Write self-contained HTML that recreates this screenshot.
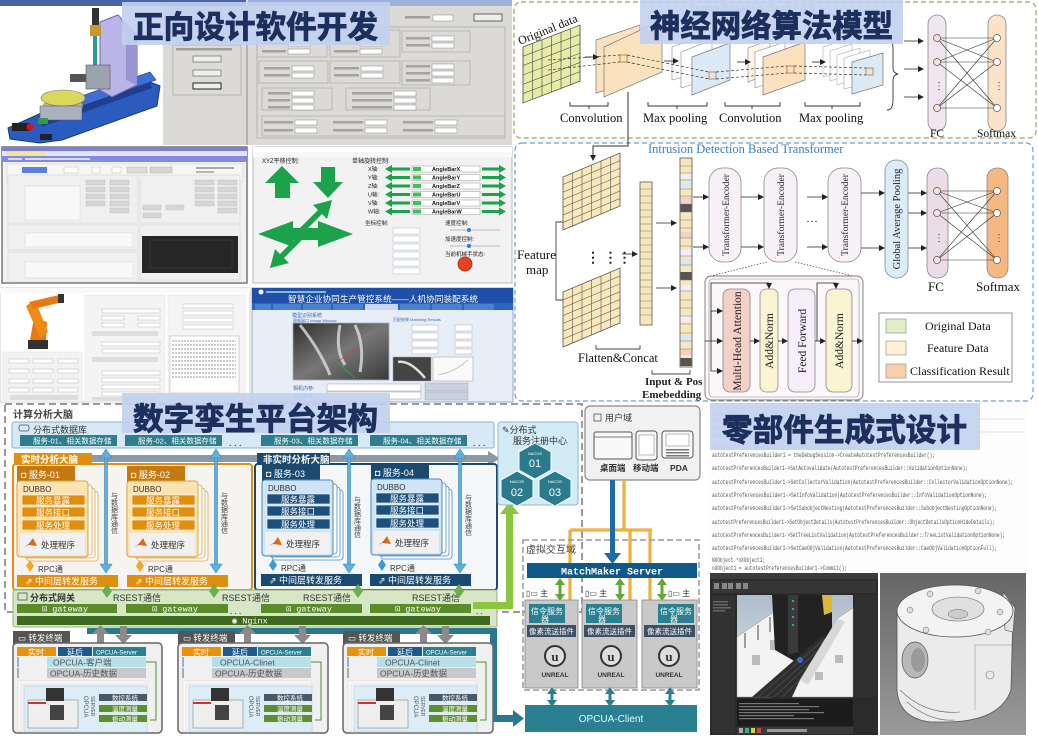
<!DOCTYPE html>
<html><head><meta charset="utf-8">
<style>
html,body{margin:0;padding:0;background:#fff;}
svg{display:block;}
.cn{font-family:"Liberation Sans","Noto Sans CJK SC",sans-serif;}
.sf{font-family:"Liberation Serif","Noto Serif CJK SC",serif;}
.mo{font-family:"Liberation Mono",monospace;}
.tt{font-family:"Liberation Sans","Noto Sans CJK SC",sans-serif;font-weight:bold;fill:#1d2f5c;stroke:#1d2f5c;stroke-width:0.9;}
</style></head><body>
<svg width="1038" height="747" viewBox="0 0 1038 747" xmlns="http://www.w3.org/2000/svg">
<defs>
<marker id="ah" markerWidth="6" markerHeight="6" refX="5" refY="3" orient="auto" markerUnits="userSpaceOnUse"><path d="M0,0 L6,3 L0,6 z" fill="#222"/></marker>
<linearGradient id="gpart" x1="0" y1="0" x2="0" y2="1"><stop offset="0" stop-color="#666"/><stop offset="1" stop-color="#9a9a9a"/></linearGradient>
<linearGradient id="gview" x1="0" y1="0" x2="0" y2="1"><stop offset="0" stop-color="#aebccb"/><stop offset="1" stop-color="#dfe6ee"/></linearGradient>
<linearGradient id="gcam" x1="0" y1="0" x2="1" y2="1"><stop offset="0" stop-color="#2e2e2e"/><stop offset="0.5" stop-color="#777"/><stop offset="1" stop-color="#3a3a3a"/></linearGradient>
</defs>

<!-- ================= TOP LEFT: software screenshots ================= -->
<rect x="0" y="0" width="512" height="145" fill="#dcdad6"/>
<rect x="0" y="0" width="246" height="6" fill="#4a62a6"/>
<rect x="248" y="0" width="264" height="6" fill="#9db0d8"/>
<rect x="0" y="6" width="163" height="139" fill="#fff"/>
<polygon points="8,128 48,110 140,78 160,86 157,106 62,140 40,143 10,139" fill="#2c5bbf" stroke="#1a3a80" stroke-width="1"/>
<polygon points="70,100 150,72 156,80 76,109" fill="#3f6fd6" stroke="#1a3a80" stroke-width="0.6"/>
<polygon points="40,120 150,82 152,88 42,127" fill="#1e3f8e"/>
<polygon points="100,22 118,15 137,35 137,85 112,97 100,90" fill="#b9b5e8" stroke="#6a66a8" stroke-width="1"/>
<polygon points="118,15 137,35 137,85 126,80 126,30" fill="#9a96d4"/>
<rect x="92" y="8" width="7" height="18" fill="#333"/>
<rect x="90" y="25" width="11" height="11" fill="#c8982e"/>
<rect x="93" y="36" width="4" height="34" fill="#2a9a9a"/>
<rect x="86" y="65" width="24" height="24" fill="#9ca2ae" stroke="#555" stroke-width="0.6"/>
<rect x="70" y="74" width="16" height="8" fill="#555"/>
<ellipse cx="63" cy="106" rx="20" ry="7" fill="#c9b584" stroke="#777" stroke-width="0.5"/>
<ellipse cx="63" cy="98" rx="22" ry="8" fill="#d9d85c" stroke="#777" stroke-width="0.6"/>
<rect x="40" y="106" width="42" height="14" fill="#aab0bc" stroke="#555" stroke-width="0.5"/>
<rect x="12" y="123" width="18" height="8" fill="#222"/>
<circle cx="30" cy="127" r="3.5" fill="#e01010"/>
<rect x="38" y="118" width="10" height="6" fill="#2e9a4a"/>
<rect x="40" y="134" width="12" height="6" fill="#222"/>
<rect x="173" y="45" width="68" height="50" fill="none" stroke="#aaa" stroke-width="0.8"/>
<rect x="176" y="48" width="56" height="2.5" fill="#777" opacity=".6"/>
<rect x="193" y="56" width="28" height="6" fill="#eee" stroke="#555" stroke-width="0.6"/>
<rect x="193" y="70" width="28" height="6" fill="#eee" stroke="#555" stroke-width="0.6"/>
<rect x="193" y="83" width="28" height="6" fill="#eee" stroke="#222" stroke-width="1"/>
<rect x="246" y="6" width="2" height="139" fill="#b5b3af"/>
<rect x="257" y="27" width="248" height="111" fill="none" stroke="#aaa" stroke-width="0.8"/>
<rect x="405" y="16" width="25" height="2.5" fill="#777" opacity=".6"/>
<rect x="433" y="15" width="20" height="6" fill="#fff" stroke="#888" stroke-width="0.5"/>
<rect x="474" y="14" width="28" height="7" fill="#eee" stroke="#444" stroke-width="0.8"/>
<g fill="none" stroke="#aaa" stroke-width="0.7">
<rect x="257" y="30" width="70" height="27"/><rect x="330" y="30" width="70" height="27"/><rect x="402" y="31" width="68" height="21"/>
<rect x="259" y="61" width="69" height="22"/><rect x="330" y="61" width="70" height="22"/><rect x="402" y="61" width="68" height="24"/>
<rect x="262" y="88" width="70" height="22"/><rect x="346" y="88" width="84" height="22"/><rect x="262" y="116" width="243" height="20"/>
</g>
<g fill="#fff" stroke="#888" stroke-width="0.5">
<rect x="288" y="41" width="22" height="5"/><rect x="288" y="49" width="22" height="5"/>
<rect x="360" y="41" width="22" height="5"/><rect x="360" y="49" width="22" height="5"/>
<rect x="432" y="36" width="22" height="5"/><rect x="432" y="43" width="22" height="5"/>
<rect x="292" y="66" width="22" height="5"/><rect x="292" y="73" width="22" height="5"/>
<rect x="361" y="66" width="22" height="5"/><rect x="361" y="73" width="22" height="5"/>
<rect x="432" y="64" width="22" height="5"/><rect x="432" y="71" width="22" height="5"/><rect x="432" y="78" width="22" height="5"/>
<rect x="292" y="91" width="22" height="5"/><rect x="292" y="98" width="22" height="5"/><rect x="292" y="105" width="22" height="5"/>
<rect x="394" y="91" width="22" height="5"/><rect x="394" y="98" width="22" height="5"/><rect x="394" y="105" width="22" height="5"/>
<rect x="295" y="120" width="22" height="5"/><rect x="295" y="128" width="22" height="5"/>
<rect x="365" y="120" width="22" height="5"/><rect x="365" y="128" width="22" height="5"/>
<rect x="435" y="120" width="22" height="5"/><rect x="435" y="128" width="22" height="5"/>
</g>
<g fill="#777" opacity=".55">
<rect x="262" y="42" width="24" height="2.5"/><rect x="262" y="50" width="24" height="2.5"/>
<rect x="334" y="42" width="24" height="2.5"/><rect x="334" y="50" width="24" height="2.5"/>
<rect x="406" y="37" width="24" height="2.5"/><rect x="406" y="44" width="24" height="2.5"/>
<rect x="264" y="67" width="26" height="2.5"/><rect x="264" y="74" width="26" height="2.5"/>
<rect x="334" y="67" width="25" height="2.5"/><rect x="334" y="74" width="25" height="2.5"/>
<rect x="406" y="65" width="24" height="2.5"/><rect x="406" y="72" width="24" height="2.5"/><rect x="406" y="79" width="24" height="2.5"/>
<rect x="268" y="92" width="22" height="2.5"/><rect x="268" y="99" width="22" height="2.5"/><rect x="268" y="106" width="22" height="2.5"/>
<rect x="352" y="92" width="40" height="2.5"/><rect x="352" y="99" width="40" height="2.5"/><rect x="352" y="106" width="40" height="2.5"/>
<rect x="264" y="121" width="29" height="2.5"/><rect x="264" y="129" width="29" height="2.5"/>
<rect x="333" y="121" width="30" height="2.5"/><rect x="333" y="129" width="30" height="2.5"/>
<rect x="403" y="121" width="30" height="2.5"/><rect x="403" y="129" width="30" height="2.5"/>
</g>
<rect x="122" y="2" width="268" height="43" fill="#c2d0f0" opacity="0.9"/>
<text class="tt" x="133" y="38" font-size="31" textLength="245" lengthAdjust="spacingAndGlyphs">正向设计软件开发</text>

<!-- ================= TOP RIGHT: CNN ================= -->
<rect x="514" y="2" width="522" height="136" rx="7" fill="#fff" stroke="#a4a35c" stroke-width="1.2" stroke-dasharray="5,3"/>
<text class="sf" x="690" y="11" font-size="10" fill="#999">Feature Extraction Based CNN</text>
<g transform="translate(523,47) skewY(-21)">
<rect x="0" y="0" width="57" height="56" fill="#e6eca8" stroke="#444" stroke-width="0.8"/>
<g stroke="#444" stroke-width="0.6">
<line x1="9.5" y1="0" x2="9.5" y2="56"/><line x1="19" y1="0" x2="19" y2="56"/><line x1="28.5" y1="0" x2="28.5" y2="56"/><line x1="38" y1="0" x2="38" y2="56"/><line x1="47.5" y1="0" x2="47.5" y2="56"/>
<line x1="0" y1="9.3" x2="57" y2="9.3"/><line x1="0" y1="18.6" x2="57" y2="18.6"/><line x1="0" y1="28" x2="57" y2="28"/><line x1="0" y1="37.3" x2="57" y2="37.3"/><line x1="0" y1="46.6" x2="57" y2="46.6"/>
</g></g>
<text class="sf" font-size="12" fill="#111" transform="translate(520,45) rotate(-22)">Original data</text>
<polygon points="596,40 640,25 640,80 596,93" fill="#fbe3c2" stroke="#777" stroke-width="0.7"/>
<polygon points="604,47 662,20 662,72 604,97" fill="#fbe2bf" stroke="#777" stroke-width="0.7"/>
<rect x="620" y="55" width="7" height="7" fill="none" stroke="#b07a30" stroke-width="0.8"/>
<polygon points="672,47 700,37 700,73 672,80" fill="#fff" stroke="#888" stroke-width="0.6"/>
<polygon points="681,52 712,40 712,78 681,88" fill="#fff" stroke="#888" stroke-width="0.6"/>
<polygon points="692,57 730,43 730,80 692,95" fill="#dceaf6" stroke="#777" stroke-width="0.7"/>
<rect x="709" y="72" width="7" height="7" fill="none" stroke="#b07a30" stroke-width="0.8"/>
<polygon points="748,48 770,40 770,73 748,82" fill="#fff6ea" stroke="#888" stroke-width="0.6"/>
<polygon points="755,52 785,42 785,78 755,88" fill="#fff" stroke="#888" stroke-width="0.6"/>
<polygon points="763,57 805,42 805,80 763,95" fill="#fbe1bd" stroke="#777" stroke-width="0.7"/>
<rect x="787" y="66" width="7" height="7" fill="none" stroke="#b07a30" stroke-width="0.8"/>
<polygon points="823,47 845,40 845,70 823,77" fill="#fff" stroke="#999" stroke-width="0.5"/>
<polygon points="830,51 852,44 852,74 830,81" fill="#fff" stroke="#999" stroke-width="0.5"/>
<polygon points="837,55 860,48 860,78 837,85" fill="#fff" stroke="#999" stroke-width="0.5"/>
<polygon points="844,58 870,50 870,82 844,89" fill="#fff" stroke="#999" stroke-width="0.5"/>
<polygon points="852,62 883,53 883,85 852,94" fill="#dceaf6" stroke="#777" stroke-width="0.7"/>
<rect x="866" y="68" width="7" height="7" fill="none" stroke="#b07a30" stroke-width="0.8"/>
<g stroke="#333" stroke-width="0.7" stroke-dasharray="3,2" fill="none">
<line x1="548" y1="60" x2="620" y2="55"/><line x1="548" y1="70" x2="620" y2="62"/>
<line x1="627" y1="55" x2="709" y2="72"/><line x1="627" y1="62" x2="709" y2="79"/>
<line x1="716" y1="72" x2="787" y2="66"/><line x1="716" y1="79" x2="787" y2="73"/>
<line x1="794" y1="66" x2="866" y2="68"/><line x1="794" y1="73" x2="866" y2="75"/>
</g>
<g stroke="#222" stroke-width="0.8" marker-end="url(#ah)">
<line x1="585" y1="57" x2="598" y2="57"/><line x1="664" y1="61" x2="678" y2="61"/><line x1="737" y1="62" x2="750" y2="62"/><line x1="812" y1="62" x2="825" y2="62"/>
</g>
<g stroke="#333" stroke-width="0.9" fill="none">
<path d="M570,102 V106 H608 V102 M589,106 V109"/>
<path d="M648,102 V106 H707 V102 M677,106 V109"/>
<path d="M725,102 V106 H780 V102 M752,106 V109"/>
<path d="M805,102 V106 H860 V102 M832,106 V109"/>
<path d="M887,38 Q893,38 893,50 V68 Q893,73 898,74 Q893,75 893,80 V100 Q893,110 887,110"/>
</g>
<g class="sf" font-size="12.5" fill="#111">
<text x="560" y="122">Convolution</text><text x="643" y="122">Max pooling</text><text x="719" y="122">Convolution</text><text x="799" y="122">Max pooling</text>
</g>
<g stroke="#222" stroke-width="0.8" marker-end="url(#ah)">
<line x1="904" y1="41" x2="923" y2="41"/><line x1="904" y1="69" x2="923" y2="69"/><line x1="904" y1="97" x2="923" y2="97"/>
</g>
<rect x="928" y="15" width="18" height="116" rx="9" fill="#f1e5ef" stroke="#888" stroke-width="0.8"/>
<rect x="988" y="15" width="18" height="116" rx="9" fill="#fbe3c9" stroke="#888" stroke-width="0.8"/>
<g stroke="#333" stroke-width="0.6">
<line x1="937" y1="38" x2="997" y2="38"/><line x1="937" y1="38" x2="997" y2="62"/><line x1="937" y1="38" x2="997" y2="108"/>
<line x1="937" y1="62" x2="997" y2="38"/><line x1="937" y1="62" x2="997" y2="62"/><line x1="937" y1="62" x2="997" y2="108"/>
<line x1="937" y1="108" x2="997" y2="38"/><line x1="937" y1="108" x2="997" y2="62"/><line x1="937" y1="108" x2="997" y2="108"/>
</g>
<g fill="#fbe0dc" stroke="#555" stroke-width="0.7">
<circle cx="937" cy="38" r="3.5"/><circle cx="937" cy="62" r="3.5"/><circle cx="937" cy="108" r="3.5"/>
</g>
<g fill="#fff" stroke="#555" stroke-width="0.7">
<circle cx="997" cy="38" r="3.5"/><circle cx="997" cy="62" r="3.5"/><circle cx="997" cy="108" r="3.5"/>
</g>
<text x="934" y="89" font-size="10" fill="#333">⋮</text><text x="994" y="89" font-size="10" fill="#333">⋮</text>
<text class="sf" x="930" y="137" font-size="11.5" fill="#111">FC</text>
<text class="sf" x="977" y="137" font-size="11.5" fill="#111">Softmax</text>
<rect x="640" y="0" width="263" height="44" fill="#c2d0f0" opacity="0.9"/>
<text class="tt" x="650" y="37" font-size="31" textLength="243" lengthAdjust="spacingAndGlyphs">神经网络算法模型</text>

<!-- ================= MIDDLE RIGHT: Transformer ================= -->
<rect x="515" y="143" width="518" height="258" rx="7" fill="#fff" stroke="#6d9fd0" stroke-width="1.2" stroke-dasharray="5,3"/>
<path d="M628,92 V146 H593 V160" stroke="#333" stroke-width="1" fill="none" marker-end="url(#ah)"/>
<text class="sf" x="648" y="153" font-size="12.5" fill="#3b7cc2">Intrusion Detection Based Transformer</text>
<g transform="translate(563,177) skewY(-22.8)">
<rect x="0" y="0" width="57" height="53" fill="#f8e8bc" stroke="#555" stroke-width="0.8"/>
<g stroke="#555" stroke-width="0.6">
<line x1="9.5" y1="0" x2="9.5" y2="53"/><line x1="19" y1="0" x2="19" y2="53"/><line x1="28.5" y1="0" x2="28.5" y2="53"/><line x1="38" y1="0" x2="38" y2="53"/><line x1="47.5" y1="0" x2="47.5" y2="53"/>
<line x1="0" y1="7.6" x2="57" y2="7.6"/><line x1="0" y1="15.2" x2="57" y2="15.2"/><line x1="0" y1="22.7" x2="57" y2="22.7"/><line x1="0" y1="30.3" x2="57" y2="30.3"/><line x1="0" y1="37.9" x2="57" y2="37.9"/><line x1="0" y1="45.4" x2="57" y2="45.4"/>
</g></g>
<g transform="translate(563,292) skewY(-22.8)">
<rect x="0" y="0" width="57" height="55" fill="#f8e8bc" stroke="#555" stroke-width="0.8"/>
<g stroke="#555" stroke-width="0.6">
<line x1="9.5" y1="0" x2="9.5" y2="55"/><line x1="19" y1="0" x2="19" y2="55"/><line x1="28.5" y1="0" x2="28.5" y2="55"/><line x1="38" y1="0" x2="38" y2="55"/><line x1="47.5" y1="0" x2="47.5" y2="55"/>
<line x1="0" y1="7.9" x2="57" y2="7.9"/><line x1="0" y1="15.7" x2="57" y2="15.7"/><line x1="0" y1="23.6" x2="57" y2="23.6"/><line x1="0" y1="31.4" x2="57" y2="31.4"/><line x1="0" y1="39.3" x2="57" y2="39.3"/><line x1="0" y1="47.1" x2="57" y2="47.1"/>
</g></g>
<text x="586" y="262" font-size="14" fill="#222" font-weight="bold">⋮ ⋮⋮</text>
<path d="M563,222 H556 V300 H563" stroke="#444" stroke-width="0.9" fill="none"/>
<text class="sf" x="517" y="259" font-size="13" fill="#111">Feature</text>
<text class="sf" x="526" y="274" font-size="13" fill="#111">map</text>
<line x1="622" y1="254" x2="637" y2="254" stroke="#222" stroke-width="0.8" marker-end="url(#ah)"/>
<rect x="640" y="182" width="12" height="143" fill="#f8e8bc" stroke="#555" stroke-width="0.8"/>
<g stroke="#777" stroke-width="0.5">
<line x1="640" y1="189" x2="652" y2="189"/><line x1="640" y1="196" x2="652" y2="196"/><line x1="640" y1="203" x2="652" y2="203"/><line x1="640" y1="210" x2="652" y2="210"/><line x1="640" y1="217" x2="652" y2="217"/><line x1="640" y1="224" x2="652" y2="224"/><line x1="640" y1="231" x2="652" y2="231"/><line x1="640" y1="238" x2="652" y2="238"/><line x1="640" y1="245" x2="652" y2="245"/><line x1="640" y1="252" x2="652" y2="252"/><line x1="640" y1="259" x2="652" y2="259"/><line x1="640" y1="266" x2="652" y2="266"/><line x1="640" y1="273" x2="652" y2="273"/><line x1="640" y1="280" x2="652" y2="280"/><line x1="640" y1="287" x2="652" y2="287"/><line x1="640" y1="294" x2="652" y2="294"/><line x1="640" y1="301" x2="652" y2="301"/><line x1="640" y1="308" x2="652" y2="308"/><line x1="640" y1="315" x2="652" y2="315"/>
</g>
<path d="M596,345 V349 H640 V345" stroke="#444" stroke-width="0.9" fill="none"/>
<text class="sf" x="578" y="362" font-size="12.5" fill="#111">Flatten&amp;Concat</text>
<g stroke="#222" stroke-width="0.8" marker-end="url(#ah)">
<line x1="656" y1="223" x2="676" y2="223"/><line x1="656" y1="288" x2="676" y2="288"/>
</g>
<rect x="680" y="158" width="12" height="209" fill="#f8e8bc" stroke="#555" stroke-width="0.8"/>
<g stroke="none">
<rect x="680.5" y="173" width="11" height="6" fill="#f0eef8"/><rect x="680.5" y="182" width="11" height="6" fill="#d8e8f5"/><rect x="680.5" y="197" width="11" height="6" fill="#f6d0c8"/>
<rect x="680.5" y="204" width="11" height="8" fill="#555"/><rect x="680.5" y="232" width="11" height="6" fill="#f6d0c8"/><rect x="680.5" y="250" width="11" height="6" fill="#f0eef8"/>
<rect x="680.5" y="259" width="11" height="6" fill="#d8e8f5"/><rect x="680.5" y="272" width="11" height="8" fill="#555"/><rect x="680.5" y="285" width="11" height="6" fill="#f0eef8"/>
<rect x="680.5" y="316" width="11" height="6" fill="#f0eef8"/><rect x="680.5" y="335" width="11" height="6" fill="#d8e8f5"/><rect x="680.5" y="349" width="11" height="6" fill="#f6d0c8"/><rect x="680.5" y="358" width="11" height="8" fill="#555"/>
</g>
<g stroke="#777" stroke-width="0.5">
<line x1="680" y1="166" x2="692" y2="166"/><line x1="680" y1="173" x2="692" y2="173"/><line x1="680" y1="180" x2="692" y2="180"/><line x1="680" y1="189" x2="692" y2="189"/><line x1="680" y1="196" x2="692" y2="196"/><line x1="680" y1="204" x2="692" y2="204"/><line x1="680" y1="212" x2="692" y2="212"/><line x1="680" y1="220" x2="692" y2="220"/><line x1="680" y1="228" x2="692" y2="228"/><line x1="680" y1="238" x2="692" y2="238"/><line x1="680" y1="246" x2="692" y2="246"/><line x1="680" y1="256" x2="692" y2="256"/><line x1="680" y1="265" x2="692" y2="265"/><line x1="680" y1="280" x2="692" y2="280"/><line x1="680" y1="291" x2="692" y2="291"/><line x1="680" y1="300" x2="692" y2="300"/><line x1="680" y1="308" x2="692" y2="308"/><line x1="680" y1="316" x2="692" y2="316"/><line x1="680" y1="324" x2="692" y2="324"/><line x1="680" y1="333" x2="692" y2="333"/><line x1="680" y1="341" x2="692" y2="341"/><line x1="680" y1="349" x2="692" y2="349"/>
</g>
<path d="M652,370 V374 H690 V370" stroke="#444" stroke-width="0.9" fill="none"/>
<text class="sf" x="645" y="385" font-size="11" font-weight="bold" fill="#222">Input &amp; Pos</text>
<text class="sf" x="642" y="398" font-size="11" font-weight="bold" fill="#222">Emebedding</text>
<g fill="#f8f2f8" stroke="#888" stroke-width="0.8">
<rect x="709" y="168" width="32" height="94" rx="14"/><rect x="764" y="168" width="33" height="94" rx="14"/><rect x="828" y="168" width="33" height="94" rx="14"/>
</g>
<g class="sf" font-size="9.5" fill="#222" text-anchor="middle">
<text transform="translate(729,215) rotate(-90)">Transformer-Encoder</text>
<text transform="translate(784,215) rotate(-90)">Transformer-Encoder</text>
<text transform="translate(848,215) rotate(-90)">Transformer-Encoder</text>
</g>
<g stroke="#222" stroke-width="0.8" marker-end="url(#ah)">
<line x1="693" y1="197" x2="708" y2="197"/><line x1="693" y1="247" x2="708" y2="247"/>
<line x1="741" y1="197" x2="763" y2="197"/><line x1="741" y1="247" x2="763" y2="247"/>
<line x1="807" y1="197" x2="827" y2="197"/><line x1="807" y1="247" x2="827" y2="247"/>
<line x1="861" y1="193" x2="884" y2="193"/><line x1="861" y1="248" x2="884" y2="248"/>
<line x1="908" y1="193" x2="926" y2="193"/><line x1="908" y1="213" x2="926" y2="213"/><line x1="908" y1="248" x2="926" y2="248"/>
</g>
<text x="806" y="222" font-size="12" fill="#222">…</text>
<rect x="885" y="160" width="23" height="118" rx="11" fill="#dcecfa" stroke="#888" stroke-width="0.8"/>
<text class="sf" transform="translate(900,219) rotate(-90)" text-anchor="middle" font-size="10.5" fill="#222">Global Average Pooling</text>
<rect x="927" y="168" width="21" height="110" rx="10" fill="#eadde7" stroke="#888" stroke-width="0.8"/>
<rect x="987" y="168" width="21" height="110" rx="10" fill="#f6b882" stroke="#888" stroke-width="0.8"/>
<g stroke="#333" stroke-width="0.6">
<line x1="937" y1="191" x2="997" y2="191"/><line x1="937" y1="191" x2="997" y2="213"/><line x1="937" y1="191" x2="997" y2="260"/>
<line x1="937" y1="213" x2="997" y2="191"/><line x1="937" y1="213" x2="997" y2="213"/><line x1="937" y1="213" x2="997" y2="260"/>
<line x1="937" y1="260" x2="997" y2="191"/><line x1="937" y1="260" x2="997" y2="213"/><line x1="937" y1="260" x2="997" y2="260"/>
</g>
<g fill="#fbe0dc" stroke="#555" stroke-width="0.7"><circle cx="937" cy="191" r="3.5"/><circle cx="937" cy="213" r="3.5"/><circle cx="937" cy="260" r="3.5"/></g>
<g fill="#fff" stroke="#555" stroke-width="0.7"><circle cx="997" cy="191" r="3.5"/><circle cx="997" cy="213" r="3.5"/><circle cx="997" cy="260" r="3.5"/></g>
<text x="934" y="241" font-size="10" fill="#333">⋮</text><text x="994" y="241" font-size="10" fill="#333">⋮</text>
<text class="sf" x="928" y="291" font-size="13" fill="#111">FC</text>
<text class="sf" x="976" y="291" font-size="13" fill="#111">Softmax</text>
<g stroke="#555" stroke-width="0.8" stroke-dasharray="1.5,1.5"><line x1="767" y1="262" x2="707" y2="277"/><line x1="795" y1="262" x2="857" y2="277"/></g>
<rect x="705" y="276" width="158" height="124" rx="6" fill="#fcf7fb" stroke="#777" stroke-width="0.9"/>
<rect x="709" y="279" width="150" height="118" rx="4" fill="none" stroke="#888" stroke-width="0.6"/>
<rect x="723" y="289" width="27" height="103" rx="7" fill="#f5d0c6" stroke="#888" stroke-width="0.8"/>
<rect x="760" y="289" width="18" height="103" rx="6" fill="#fbf4d2" stroke="#888" stroke-width="0.8"/>
<rect x="788" y="289" width="27" height="103" rx="7" fill="#f6eef8" stroke="#888" stroke-width="0.8"/>
<rect x="826" y="289" width="26" height="103" rx="7" fill="#fbf4d2" stroke="#888" stroke-width="0.8"/>
<g class="sf" font-size="11.5" fill="#222" text-anchor="middle">
<text transform="translate(741,341) rotate(-90)">Multi-Head Attention</text>
<text transform="translate(773,341) rotate(-90)">Add&amp;Norm</text>
<text transform="translate(806,341) rotate(-90)">Feed Forward</text>
<text transform="translate(843,341) rotate(-90)">Add&amp;Norm</text>
</g>
<g stroke="#222" stroke-width="0.8" fill="none">
<path d="M711,341 V283 H769 V288" marker-end="url(#ah)"/>
<path d="M817,341 V283 H836 V288" marker-end="url(#ah)"/>
<path d="M711,311 H722" marker-end="url(#ah)"/><path d="M705,341 H722" marker-end="url(#ah)"/><path d="M711,311 V371 H722" marker-end="url(#ah)"/>
<path d="M750,341 H759" marker-end="url(#ah)"/><path d="M778,341 H787" marker-end="url(#ah)"/><path d="M815,341 H825" marker-end="url(#ah)"/><path d="M852,341 H862" marker-end="url(#ah)"/>
</g>
<rect x="879" y="313" width="133" height="69" fill="#fff" stroke="#888" stroke-width="0.9"/>
<rect x="886" y="319" width="20" height="14" fill="#e4edca" stroke="#888" stroke-width="0.6"/>
<rect x="886" y="341" width="20" height="14" fill="#fdf2d4" stroke="#888" stroke-width="0.6"/>
<rect x="886" y="364" width="20" height="14" fill="#f8cfa8" stroke="#888" stroke-width="0.6"/>
<g class="sf" font-size="12" fill="#111">
<text x="925" y="330">Original Data</text><text x="927" y="352">Feature Data</text><text x="910" y="375">Classification Result</text>
</g>

<!-- ================= MIDDLE LEFT: 4 screenshots ================= -->
<rect x="2" y="147" width="245" height="136" fill="#f2f2f2" stroke="#777" stroke-width="1.5"/>
<rect x="2" y="147" width="245" height="4" fill="#7b7fd8"/>
<rect x="2" y="151" width="245" height="5" fill="#e4e4fb"/>
<rect x="7" y="151" width="38" height="5" fill="#f4e592"/>
<rect x="2" y="156" width="245" height="6" fill="#8387e6"/>
<rect x="8" y="158" width="14" height="2" fill="#fff" opacity=".7"/><rect x="25" y="158" width="65" height="2" fill="#fff" opacity=".7"/>
<rect x="7" y="164" width="236" height="18" fill="#f6f6f6" stroke="#ccc" stroke-width="0.5"/>
<rect x="22" y="167" width="25" height="6" fill="#5b7de0"/>
<rect x="64" y="167" width="14" height="6" fill="#fff" stroke="#aaa" stroke-width="0.4"/>
<rect x="92" y="167" width="8" height="6" fill="#fff" stroke="#aaa" stroke-width="0.4"/>
<rect x="112" y="167" width="9" height="6" fill="#fff" stroke="#aaa" stroke-width="0.4"/>
<rect x="127" y="167" width="20" height="6" fill="#ddd" stroke="#aaa" stroke-width="0.4"/>
<rect x="150" y="167" width="22" height="6" fill="#d5d5d5" stroke="#aaa" stroke-width="0.4"/>
<rect x="196" y="167" width="38" height="2" fill="#777" opacity=".6"/><rect x="196" y="171" width="18" height="2" fill="#777" opacity=".5"/>
<rect x="8" y="175" width="130" height="48" fill="#f0f0f0" stroke="#ccc" stroke-width="0.5"/>
<rect x="25" y="186" width="55" height="34" fill="#f8f8f8" stroke="#ccc" stroke-width="0.4"/>
<rect x="140" y="175" width="100" height="48" fill="#f0f0f0" stroke="#ccc" stroke-width="0.5"/>
<g fill="#d6d6d6" stroke="#bbb" stroke-width="0.4">
<rect x="86" y="180" width="19" height="5"/><rect x="110" y="180" width="19" height="5"/><rect x="86" y="187" width="19" height="5"/><rect x="110" y="187" width="19" height="5"/>
<rect x="86" y="194" width="19" height="5"/><rect x="110" y="194" width="19" height="5"/><rect x="86" y="201" width="19" height="5"/><rect x="110" y="201" width="19" height="5"/><rect x="110" y="208" width="19" height="5"/>
<rect x="195" y="180" width="19" height="5"/><rect x="218" y="180" width="19" height="5"/><rect x="195" y="187" width="19" height="5"/><rect x="218" y="187" width="19" height="5"/>
<rect x="195" y="194" width="19" height="5"/><rect x="218" y="194" width="19" height="5"/><rect x="195" y="201" width="19" height="5"/><rect x="218" y="201" width="19" height="5"/><rect x="218" y="208" width="19" height="5"/>
<rect x="143" y="205" width="18" height="5"/><rect x="166" y="205" width="18" height="5"/><rect x="143" y="213" width="18" height="5"/>
<rect x="93" y="226" width="20" height="5"/><rect x="113" y="226" width="20" height="5"/><rect x="225" y="226" width="13" height="5"/><rect x="115" y="255" width="20" height="5"/>
</g>
<rect x="8" y="225" width="130" height="25" fill="#f0f0f0" stroke="#ccc" stroke-width="0.5"/>
<rect x="25" y="233" width="108" height="14" fill="#f8f8f8" stroke="#ccc" stroke-width="0.4"/>
<rect x="140" y="225" width="100" height="55" fill="#f0f0f0" stroke="#ccc" stroke-width="0.5"/>
<rect x="142" y="236" width="96" height="37" fill="#262626"/>
<rect x="150" y="240" width="82" height="28" fill="none" stroke="#555" stroke-width="0.4"/>
<rect x="8" y="252" width="130" height="30" fill="#f0f0f0" stroke="#ccc" stroke-width="0.5"/>
<rect x="25" y="262" width="108" height="16" fill="#f8f8f8" stroke="#ccc" stroke-width="0.4"/>
<!-- Panel B -->
<rect x="253" y="147" width="259" height="136" fill="#f2f2f2" stroke="#bbb" stroke-width="1"/>
<rect x="253" y="147" width="259" height="5" fill="#fff"/>
<rect x="253" y="152" width="259" height="5" fill="#f8f8f8"/>
<g fill="#1ca24b">
<polygon points="282,166 299,183 290,183 290,198 275,198 275,183 265,183"/>
<polygon points="321,167 335,167 335,182 343,182 328,198 313,182 321,182"/>
<polygon points="318,228 318,221 353,234 318,247 318,240 300,240 300,228" />
<polygon points="293,228 293,221 258,234 293,247 293,240 300,240 300,228"/>
<polygon points="296,232 318,210 313,205 332,200 327,219 322,214 300,236"/>
<polygon points="306,236 284,258 289,263 270,268 275,249 280,254 302,232"/>
</g>
<g class="cn" font-size="6" fill="#222"><text x="262" y="163">XYZ平移控制:</text><text x="352" y="163">单轴旋转控制:</text></g>
<g fill="#1ca24b">
<polygon points="385,169 392,165 392,167.5 410,167.5 410,170.5 392,170.5 392,173"/>
<polygon points="506,169 499,165 499,167.5 482,167.5 482,170.5 499,170.5 499,173"/>
<polygon points="385,177.5 392,173.5 392,176 410,176 410,179 392,179 392,181.5"/>
<polygon points="506,177.5 499,173.5 499,176 482,176 482,179 499,179 499,181.5"/>
<polygon points="385,186 392,182 392,184.5 410,184.5 410,187.5 392,187.5 392,190"/>
<polygon points="506,186 499,182 499,184.5 482,184.5 482,187.5 499,187.5 499,190"/>
<polygon points="385,194.5 392,190.5 392,193 410,193 410,196 392,196 392,198.5"/>
<polygon points="506,194.5 499,190.5 499,193 482,193 482,196 499,196 499,198.5"/>
<polygon points="385,203 392,199 392,201.5 410,201.5 410,204.5 392,204.5 392,207"/>
<polygon points="506,203 499,199 499,201.5 482,201.5 482,204.5 499,204.5 499,207"/>
<polygon points="385,211.5 392,207.5 392,210 410,210 410,213 392,213 392,215.5"/>
<polygon points="506,211.5 499,207.5 499,210 482,210 482,213 499,213 499,215.5"/>
</g>
<g fill="#fff" stroke="#999" stroke-width="0.5">
<rect x="412" y="166" width="68" height="6"/><rect x="412" y="174.5" width="68" height="6"/><rect x="412" y="183" width="68" height="6"/><rect x="412" y="191.5" width="68" height="6"/><rect x="412" y="200" width="68" height="6"/><rect x="412" y="208.5" width="68" height="6"/>
</g>
<g fill="#3ec05c"><rect x="413" y="167" width="8" height="4"/><rect x="413" y="175.5" width="8" height="4"/><rect x="413" y="184" width="8" height="4"/><rect x="413" y="192.5" width="8" height="4"/><rect x="413" y="201" width="8" height="4"/><rect x="413" y="209.5" width="8" height="4"/></g>
<g class="cn" font-size="5.5" font-weight="bold" fill="#111">
<text x="432" y="171">AngleBarX</text><text x="432" y="179.5">AngleBarY</text><text x="432" y="188">AngleBarZ</text><text x="432" y="196.5">AngleBarU</text><text x="432" y="205">AngleBarV</text><text x="432" y="213.5">AngleBarW</text>
</g>
<g class="cn" font-size="5.5" fill="#222">
<text x="368" y="171">X轴:</text><text x="368" y="179.5">Y轴:</text><text x="368" y="188">Z轴:</text><text x="368" y="196.5">U轴:</text><text x="368" y="205">V轴:</text><text x="368" y="213.5">W轴:</text>
<text x="365" y="225">坐标控制:</text><text x="445" y="225">速度控制:</text><text x="445" y="241">加速度控制:</text><text x="445" y="256">当前机械手状态:</text>
</g>
<g fill="#fff" stroke="#a8b8cc" stroke-width="0.5">
<rect x="393" y="228" width="27" height="6"/><rect x="393" y="236" width="27" height="6"/><rect x="393" y="244" width="27" height="6"/><rect x="393" y="252" width="27" height="6"/><rect x="393" y="260" width="27" height="6"/><rect x="393" y="268" width="27" height="6"/>
</g>
<rect x="450" y="229.5" width="50" height="1" fill="#bbb"/><circle cx="469" cy="230" r="2" fill="#2a7ad8"/>
<rect x="450" y="245.5" width="50" height="1" fill="#bbb"/><circle cx="469" cy="246" r="2" fill="#2a7ad8"/>
<circle cx="465" cy="264" r="7" fill="#e2441e" stroke="#b02a10" stroke-width="0.8"/>
<!-- Panel C -->
<rect x="0" y="288" width="250" height="114" fill="#fff" stroke="#ccc" stroke-width="1"/>
<rect x="0" y="288" width="250" height="5" fill="#fafafa"/>
<rect x="2" y="297" width="80" height="53" fill="#fff"/>
<rect x="28" y="340" width="20" height="9" fill="#333"/>
<polygon points="30,340 46,340 47,322 34,318" fill="#e8780f"/>
<polygon points="26,306 35,300 48,332 40,338" fill="#ee8a18"/>
<polygon points="29,302 59,295 63,302 33,309" fill="#e8780f"/>
<rect x="58" y="294" width="6" height="9" fill="#333"/>
<rect x="2" y="352" width="80" height="50" fill="#f2f2f2" stroke="#ddd" stroke-width="0.4"/>
<g fill="#fff" stroke="#aaa" stroke-width="0.4">
<rect x="9" y="359" width="20" height="4"/><rect x="33" y="359" width="20" height="4"/><rect x="58" y="359" width="20" height="4"/>
<rect x="9" y="369" width="20" height="4"/><rect x="33" y="369" width="20" height="4"/><rect x="58" y="369" width="20" height="4"/>
<rect x="9" y="379" width="20" height="4"/><rect x="33" y="379" width="20" height="4"/><rect x="58" y="379" width="20" height="4"/>
<rect x="9" y="388" width="20" height="4"/><rect x="33" y="388" width="20" height="4"/><rect x="58" y="388" width="20" height="4"/>
</g>
<rect x="10" y="395" width="68" height="5" fill="#ddd"/>
<rect x="85" y="295" width="80" height="107" fill="#f4f4f4" stroke="#ddd" stroke-width="0.4"/>
<rect x="168" y="295" width="77" height="107" fill="#f4f4f4" stroke="#ddd" stroke-width="0.4"/>
<g fill="#fff" stroke="#aaa" stroke-width="0.4">
<rect x="102" y="309" width="58" height="4"/><rect x="102" y="316" width="22" height="4"/><rect x="138" y="316" width="22" height="4"/><rect x="102" y="323" width="22" height="4"/><rect x="138" y="323" width="22" height="4"/>
<rect x="102" y="342" width="58" height="4"/><rect x="102" y="349" width="58" height="4"/>
<rect x="102" y="371" width="58" height="4"/><rect x="102" y="378" width="58" height="4"/><rect x="102" y="385" width="58" height="4"/><rect x="102" y="392" width="58" height="4"/>
<rect x="183" y="304" width="50" height="4"/><rect x="183" y="311" width="50" height="4"/><rect x="183" y="318" width="50" height="4"/><rect x="183" y="325" width="50" height="4"/>
</g>
<rect x="92" y="331" width="66" height="5" fill="#ddd"/><rect x="92" y="357" width="66" height="5" fill="#ddd"/><rect x="92" y="397" width="66" height="4" fill="#ddd"/>
<rect x="170" y="336" width="69" height="57" fill="#fff" stroke="#aaa" stroke-width="0.5"/>
<g stroke="#999" stroke-width="0.9" stroke-dasharray="2,1">
<line x1="172" y1="341" x2="236" y2="341"/><line x1="172" y1="345" x2="236" y2="345"/><line x1="172" y1="349" x2="236" y2="349"/><line x1="172" y1="353" x2="236" y2="353"/><line x1="172" y1="357" x2="236" y2="357"/><line x1="172" y1="361" x2="236" y2="361"/><line x1="172" y1="365" x2="236" y2="365"/><line x1="172" y1="369" x2="236" y2="369"/><line x1="172" y1="373" x2="236" y2="373"/><line x1="172" y1="377" x2="236" y2="377"/>
</g>
<rect x="170" y="395" width="69" height="5" fill="#ddd"/>
<!-- Panel D -->
<rect x="252" y="288" width="261" height="114" fill="#e8eef7" stroke="#9ab" stroke-width="1"/>
<rect x="252" y="288" width="261" height="20" fill="#1f4fa6"/>
<circle cx="261" cy="292" r="2.5" fill="#fff"/>
<rect x="266" y="291" width="60" height="2" fill="#cfe" opacity=".6"/>
<text class="cn" x="288" y="302" font-size="8.5" fill="#fff" textLength="190" lengthAdjust="spacingAndGlyphs">智慧企业协同生产管控系统——人机协同装配系统</text>
<rect x="252" y="303" width="261" height="7" fill="#2d64bd"/>
<g fill="#4a80d0"><rect x="255" y="304" width="16" height="6"/><rect x="273" y="304" width="28" height="6"/><rect x="303" y="304" width="28" height="6"/><rect x="333" y="304" width="30" height="6"/><rect x="400" y="304" width="30" height="6"/><rect x="432" y="304" width="30" height="6"/><rect x="464" y="304" width="30" height="6"/></g>
<rect x="365" y="304" width="33" height="6" fill="#c9d8ef"/>
<text class="cn" x="292" y="317" font-size="5" fill="#3a6ab8">模型识别系统</text>
<text class="cn" x="293" y="322" font-size="4" fill="#3a6ab8">图像窗口 Image Window</text>
<text class="cn" x="393" y="321" font-size="4" fill="#3a6ab8">匹配结果 Matching Results</text>
<rect x="293" y="323" width="96" height="57" fill="url(#gcam)" stroke="#aab" stroke-width="0.8"/>
<path d="M300,325 Q320,350 330,375 M340,325 Q335,350 345,365 M355,325 Q365,345 360,372" stroke="#ddd" stroke-width="3" fill="none" opacity=".8"/>
<line x1="337" y1="362" x2="355" y2="378" stroke="#2c2" stroke-width="0.7"/><line x1="337" y1="362" x2="358" y2="348" stroke="#e33" stroke-width="0.7"/>
<g fill="#fff" stroke="#99a" stroke-width="0.4">
<rect x="412" y="325" width="26" height="6"/><rect x="455" y="325" width="17" height="6"/><rect x="412" y="333" width="26" height="6"/><rect x="455" y="333" width="17" height="6"/>
<rect x="412" y="341" width="26" height="6"/><rect x="455" y="341" width="17" height="6"/><rect x="412" y="349" width="26" height="5"/><rect x="455" y="349" width="17" height="5"/>
</g>
<rect x="393" y="357" width="38" height="24" fill="#444" stroke="#99a" stroke-width="0.5"/>
<path d="M398,362 Q410,360 425,378" stroke="#ddd" stroke-width="2.5" fill="none"/>
<rect x="433" y="357" width="40" height="24" fill="#fafafa" stroke="#99a" stroke-width="0.5"/>
<path d="M438,375 Q455,372 468,360" stroke="#aaa" stroke-width="0.6" fill="none"/>
<g class="cn" font-size="5" fill="#3a6ab8"><text x="293" y="390">相机内参:</text><text x="293" y="398">相机外参:</text></g>
<rect x="327" y="384" width="94" height="7" fill="#fff" stroke="#99a" stroke-width="0.5"/>
<rect x="327" y="392" width="94" height="7" fill="#fff" stroke="#99a" stroke-width="0.5"/>
<rect x="425" y="383" width="43" height="8" fill="#c7d1df" stroke="#99a" stroke-width="0.4"/>
<rect x="425" y="392" width="43" height="8" fill="#c7d1df" stroke="#99a" stroke-width="0.4"/>

<!-- ================= BOTTOM LEFT: architecture ================= -->
<rect x="5" y="404" width="577" height="208" fill="none" stroke="#9a9a9a" stroke-width="2" stroke-dasharray="7,4"/>
<text class="cn" x="13" y="418" font-size="10" font-weight="bold" fill="#444">计算分析大脑</text>
<rect x="12" y="422" width="482" height="26" rx="2" fill="#d7e9f6" stroke="#8ab2cf" stroke-width="1"/>
<rect x="19" y="425" width="10" height="6" rx="2" fill="none" stroke="#456" stroke-width="0.8"/>
<text class="cn" x="33" y="433" font-size="9" fill="#333">分布式数据库</text>
<g fill="#2e7e8e"><rect x="20" y="435" width="97" height="11"/><rect x="125" y="435" width="97" height="11"/><rect x="261" y="435" width="97" height="11"/><rect x="370" y="435" width="97" height="11"/></g>
<g class="cn" font-size="7.5" fill="#fff"><text x="33" y="443.5">服务-01、相关数据存储</text><text x="138" y="443.5">服务-02、相关数据存储</text><text x="274" y="443.5">服务-03、相关数据存储</text><text x="383" y="443.5">服务-04、相关数据存储</text></g>
<text x="229" y="446" font-size="10" fill="#333">. . .</text><text x="473" y="446" font-size="10" fill="#333">. . .</text>
<rect x="92" y="455" width="396" height="7" fill="#8c9aa8"/>
<polygon points="488,451 500,458.5 488,466" fill="#8c9aa8"/>
<rect x="13" y="464" width="239" height="126" rx="3" fill="#f6f4f0" stroke="#e0900e" stroke-width="2"/>
<rect x="14" y="453" width="78" height="12" fill="#e0900e"/>
<text class="cn" x="21" y="463" font-size="9.5" font-weight="bold" fill="#fff">实时分析大脑</text>
<rect x="255" y="464" width="242" height="126" rx="3" fill="#f4f6f8" stroke="#1b4a70" stroke-width="2"/>
<rect x="257" y="453" width="73" height="12" fill="#1b4a70"/>
<text class="cn" x="263" y="463" font-size="9.5" font-weight="bold" fill="#fff">非实时分析大脑</text>
<!-- card 1 -->
<rect x="27" y="491" width="71" height="70" rx="3" fill="#fff" stroke="#e0a040" stroke-width="0.8"/>
<rect x="24" y="488" width="71" height="70" rx="3" fill="#fff" stroke="#e0a040" stroke-width="0.8"/>
<rect x="21" y="485" width="71" height="70" rx="3" fill="#fff" stroke="#e0a040" stroke-width="0.8"/>
<rect x="17" y="466" width="58" height="16" fill="#c47a12"/>
<rect x="17" y="481" width="71" height="76" rx="3" fill="#fde3b2" stroke="#e0a040" stroke-width="1"/>
<text class="cn" x="21" y="478" font-size="9" fill="#fff">◘ 服务-01</text>
<text class="cn" x="23" y="492" font-size="8" fill="#333">DUBBO</text>
<g fill="#e08e0b" stroke="#fff" stroke-width="0.6"><rect x="22" y="495" width="63" height="10"/><rect x="22" y="507" width="63" height="10"/><rect x="22" y="520" width="63" height="10"/></g>
<g class="cn" font-size="8.5" fill="#fff" text-anchor="middle"><text x="53" y="503.5">服务暴露</text><text x="53" y="515.5">服务接口</text><text x="53" y="528.5">服务处理</text></g>
<rect x="20" y="533" width="65" height="22" fill="#f1f1f1"/>
<polygon points="28,545 33,538 37,546" fill="#e06a10"/><polygon points="28,545 33,541 24,547" fill="#3a6ad0"/>
<text class="cn" x="41" y="548" font-size="8.5" fill="#333">处理程序</text>
<!-- card 2 -->
<rect x="137" y="491" width="71" height="70" rx="3" fill="#fff" stroke="#e0a040" stroke-width="0.8"/>
<rect x="134" y="488" width="71" height="70" rx="3" fill="#fff" stroke="#e0a040" stroke-width="0.8"/>
<rect x="131" y="485" width="71" height="70" rx="3" fill="#fff" stroke="#e0a040" stroke-width="0.8"/>
<rect x="127" y="466" width="58" height="16" fill="#c47a12"/>
<rect x="127" y="481" width="71" height="76" rx="3" fill="#fde3b2" stroke="#e0a040" stroke-width="1"/>
<text class="cn" x="131" y="478" font-size="9" fill="#fff">◘ 服务-02</text>
<text class="cn" x="133" y="492" font-size="8" fill="#333">DUBBO</text>
<g fill="#e08e0b" stroke="#fff" stroke-width="0.6"><rect x="132" y="495" width="63" height="10"/><rect x="132" y="507" width="63" height="10"/><rect x="132" y="520" width="63" height="10"/></g>
<g class="cn" font-size="8.5" fill="#fff" text-anchor="middle"><text x="163" y="503.5">服务暴露</text><text x="163" y="515.5">服务接口</text><text x="163" y="528.5">服务处理</text></g>
<rect x="130" y="533" width="65" height="22" fill="#f1f1f1"/>
<polygon points="138,545 143,538 147,546" fill="#e06a10"/><polygon points="138,545 143,541 134,547" fill="#3a6ad0"/>
<text class="cn" x="151" y="548" font-size="8.5" fill="#333">处理程序</text>
<!-- card 3 -->
<rect x="272" y="490" width="71" height="70" rx="3" fill="#fff" stroke="#4a8ac0" stroke-width="0.8"/>
<rect x="269" y="487" width="71" height="70" rx="3" fill="#fff" stroke="#4a8ac0" stroke-width="0.8"/>
<rect x="266" y="484" width="71" height="70" rx="3" fill="#fff" stroke="#4a8ac0" stroke-width="0.8"/>
<rect x="262" y="465" width="58" height="16" fill="#1b4a70"/>
<rect x="262" y="480" width="71" height="76" rx="3" fill="#cfe4f6" stroke="#4a8ac0" stroke-width="1"/>
<text class="cn" x="266" y="477" font-size="9" fill="#fff">◘ 服务-03</text>
<text class="cn" x="268" y="491" font-size="8" fill="#333">DUBBO</text>
<g fill="#1d4f7c" stroke="#fff" stroke-width="0.6"><rect x="267" y="494" width="63" height="10"/><rect x="267" y="506" width="63" height="10"/><rect x="267" y="519" width="63" height="10"/></g>
<g class="cn" font-size="8.5" fill="#fff" text-anchor="middle"><text x="298" y="502.5">服务暴露</text><text x="298" y="514.5">服务接口</text><text x="298" y="527.5">服务处理</text></g>
<rect x="265" y="532" width="65" height="22" fill="#f1f1f1"/>
<polygon points="273,544 278,537 282,545" fill="#e06a10"/><polygon points="273,544 278,540 269,546" fill="#3a6ad0"/>
<text class="cn" x="286" y="547" font-size="8.5" fill="#333">处理程序</text>
<!-- card 4 -->
<rect x="381" y="489" width="71" height="70" rx="3" fill="#fff" stroke="#4a8ac0" stroke-width="0.8"/>
<rect x="378" y="486" width="71" height="70" rx="3" fill="#fff" stroke="#4a8ac0" stroke-width="0.8"/>
<rect x="375" y="483" width="71" height="70" rx="3" fill="#fff" stroke="#4a8ac0" stroke-width="0.8"/>
<rect x="371" y="464" width="58" height="16" fill="#1b4a70"/>
<rect x="371" y="479" width="71" height="76" rx="3" fill="#cfe4f6" stroke="#4a8ac0" stroke-width="1"/>
<text class="cn" x="375" y="476" font-size="9" fill="#fff">◘ 服务-04</text>
<text class="cn" x="377" y="490" font-size="8" fill="#333">DUBBO</text>
<g fill="#1d4f7c" stroke="#fff" stroke-width="0.6"><rect x="376" y="493" width="63" height="10"/><rect x="376" y="505" width="63" height="10"/><rect x="376" y="518" width="63" height="10"/></g>
<g class="cn" font-size="8.5" fill="#fff" text-anchor="middle"><text x="407" y="501.5">服务暴露</text><text x="407" y="513.5">服务接口</text><text x="407" y="526.5">服务处理</text></g>
<rect x="374" y="531" width="65" height="22" fill="#f1f1f1"/>
<polygon points="382,543 387,536 391,544" fill="#e06a10"/><polygon points="382,543 387,539 378,545" fill="#3a6ad0"/>
<text class="cn" x="395" y="546" font-size="8.5" fill="#333">处理程序</text>
<g fill="#5fb0da" stroke="#3a8ab8" stroke-width="0.6">
<rect x="104.5" y="457" width="3" height="108"/><polygon points="100,458 106,449 112,458"/><polygon points="100,564 106,573 112,564"/>
<rect x="214.5" y="457" width="3" height="108"/><polygon points="210,458 216,449 222,458"/><polygon points="210,564 216,573 222,564"/>
<rect x="347.5" y="457" width="3" height="108"/><polygon points="343,458 349,449 355,458"/><polygon points="343,564 349,573 355,564"/>
<rect x="458.5" y="457" width="3" height="108"/><polygon points="454,458 460,449 466,458"/><polygon points="454,564 460,573 466,564"/>
</g>
<g class="cn" font-size="7" fill="#444" style="writing-mode:vertical-rl">
<text x="114" y="492">与数据库通信</text><text x="224" y="492">与数据库通信</text><text x="357" y="496">与数据库通信</text><text x="468" y="494">与数据库通信</text>
</g>
<g fill="#f5a623"><polygon points="30,560 34,566 30,572 26,566"/><polygon points="140,560 144,566 140,572 136,566"/></g>
<g fill="#3a9ad8"><polygon points="273,559 277,565 273,571 269,565"/><polygon points="382,559 386,565 382,571 378,565"/></g>
<g class="cn" font-size="8" fill="#333"><text x="38" y="572">RPC通</text><text x="148" y="572">RPC通</text><text x="281" y="571">RPC通</text><text x="390" y="571">RPC通</text></g>
<rect x="17" y="575" width="101" height="12" fill="#e0900e"/><rect x="127" y="575" width="101" height="12" fill="#e0900e"/>
<rect x="261" y="574" width="101" height="12" fill="#1b4a70"/><rect x="370" y="574" width="101" height="12" fill="#1b4a70"/>
<g class="cn" font-size="9" fill="#fff"><text x="25" y="584.5">⇗ 中间层转发服务</text><text x="135" y="584.5">⇗ 中间层转发服务</text><text x="269" y="583.5">⇗ 中间层转发服务</text><text x="378" y="583.5">⇗ 中间层转发服务</text></g>
<rect x="13" y="590" width="484" height="37" rx="2" fill="#d6e7c6" stroke="#9ab27a" stroke-width="1"/>
<rect x="18" y="593" width="9" height="7" fill="none" stroke="#456" stroke-width="0.8"/>
<text class="cn" x="30" y="601" font-size="9" font-weight="bold" fill="#333">分布式网关</text>
<g class="cn" font-size="9" fill="#333"><text x="113" y="601">RSEST通信</text><text x="222" y="601">RSEST通信</text><text x="303" y="601">RSEST通信</text><text x="412" y="601">RSEST通信</text></g>
<g fill="#6ab04c"><polygon points="107,584 112,591 107,598 102,591"/><polygon points="214,584 219,591 214,598 209,591"/><polygon points="358,584 363,591 358,598 353,591"/><polygon points="459,584 464,591 459,598 454,591"/></g>
<g fill="#5a8c2a"><rect x="17" y="604" width="100" height="9"/><rect x="126" y="604" width="102" height="9"/><rect x="261" y="604" width="101" height="9"/><rect x="370" y="604" width="101" height="9"/></g>
<g class="mo" font-size="8.5" fill="#fff"><text x="42" y="611.5">⊡ gateway</text><text x="152" y="611.5">⊡ gateway</text><text x="286" y="611.5">⊡ gateway</text><text x="395" y="611.5">⊡ gateway</text></g>
<text x="230" y="614" font-size="9" fill="#333">. . .</text><text x="476" y="614" font-size="9" fill="#333">. .</text>
<rect x="17" y="616" width="473" height="9" fill="#3d6a1e"/>
<text class="mo" x="232" y="623.5" font-size="8.5" fill="#fff">◉ Nginx</text>
<rect x="473" y="602" width="40" height="7" fill="#8cc63f"/>
<rect x="506" y="512" width="7" height="97" fill="#8cc63f"/>
<polygon points="500,514 509.5,502 519,514" fill="#8cc63f"/>
<rect x="87" y="628" width="410" height="6" fill="#2a7890"/>
<rect x="490" y="628" width="7" height="93" fill="#2a7890"/>
<rect x="490" y="715" width="25" height="7" fill="#2a7890"/>
<polygon points="513,710 524,718.5 513,727" fill="#2a7890"/>
<g fill="#8a8a8a">
<rect x="97" y="633" width="7" height="10"/><polygon points="92,634 100.5,625 109,634"/>
<rect x="120" y="626" width="7" height="10"/><polygon points="115,635 123.5,644 132,635"/>
<rect x="244" y="633" width="7" height="10"/><polygon points="239,634 247.5,625 256,634"/>
<rect x="299" y="626" width="7" height="10"/><polygon points="294,635 302.5,644 311,635"/>
<rect x="420" y="633" width="7" height="10"/><polygon points="415,634 423.5,625 432,634"/>
<rect x="442" y="626" width="7" height="10"/><polygon points="437,635 445.5,644 454,635"/>
</g>
<!-- terminal 1 -->
<rect x="13" y="631" width="57" height="13" fill="#555"/>
<text class="cn" x="18" y="641" font-size="8.5" fill="#fff">▭ 转发终端</text>
<rect x="13" y="643" width="149" height="90" rx="4" fill="#f0f0f0" stroke="#666" stroke-width="1.5"/>
<rect x="17" y="647" width="39" height="9" fill="#e8920c"/><rect x="58" y="647" width="34" height="9" fill="#1d5a8c"/><rect x="93" y="647" width="53" height="9" fill="#2a8090"/>
<g class="cn" fill="#fff"><text x="28" y="655" font-size="8">实时</text><text x="67" y="655" font-size="8">延后</text><text x="96" y="654.5" font-size="6">OPCUA-Server</text></g>
<rect x="17" y="657" width="2" height="10" fill="#9ad"/><rect x="47" y="657" width="99" height="10" fill="#b5e0ea"/>
<rect x="17" y="668" width="2" height="10" fill="#aaa"/><rect x="47" y="668" width="99" height="10" fill="#c9c9c9"/>
<g class="cn" font-size="8.5" fill="#555"><text x="53" y="665.5">OPCUA-客户端</text><text x="50" y="676.5">OPCUA-历史数据</text></g>
<path d="M146,662 H156 V720 H150" stroke="#5a8c2a" stroke-width="1" fill="none"/>
<rect x="18" y="681" width="128" height="50" fill="#f8f8f8" stroke="#ddd" stroke-width="0.6"/>
<rect x="21" y="684" width="126" height="48" fill="#f4f4f4" stroke="#ddd" stroke-width="0.6"/>
<rect x="24" y="686" width="123" height="46" fill="#dcedf7" stroke="#bcd" stroke-width="0.6"/>
<rect x="28" y="700" width="50" height="28" fill="#eee" stroke="#888" stroke-width="0.6"/>
<rect x="46" y="688" width="18" height="13" fill="#333"/><rect x="50" y="705" width="14" height="15" fill="#444"/><rect x="28" y="702" width="18" height="2" fill="#c33"/>
<g class="cn" font-size="6" fill="#555"><text transform="translate(84,696) rotate(90)">OPCUA</text><text transform="translate(91,696) rotate(90)" font-size="5">SERVER</text></g>
<rect x="99" y="694" width="48" height="7" fill="#4a5868"/><rect x="99" y="705" width="48" height="7" fill="#5d8f2d"/><rect x="99" y="715" width="48" height="7" fill="#5d8f2d"/>
<g class="cn" font-size="6.5" fill="#fff"><text x="112" y="700">数控系统</text><text x="112" y="711">温度测量</text><text x="112" y="721">振动测量</text></g>
<!-- terminal 2 -->
<rect x="178" y="631" width="57" height="13" fill="#555"/>
<text class="cn" x="183" y="641" font-size="8.5" fill="#fff">▭ 转发终端</text>
<rect x="178" y="643" width="150" height="90" rx="4" fill="#f0f0f0" stroke="#666" stroke-width="1.5"/>
<rect x="182" y="647" width="39" height="9" fill="#e8920c"/><rect x="223" y="647" width="34" height="9" fill="#1d5a8c"/><rect x="258" y="647" width="53" height="9" fill="#2a8090"/>
<g class="cn" fill="#fff"><text x="193" y="655" font-size="8">实时</text><text x="232" y="655" font-size="8">延后</text><text x="261" y="654.5" font-size="6">OPCUA-Server</text></g>
<rect x="182" y="657" width="2" height="10" fill="#9ad"/><rect x="212" y="657" width="99" height="10" fill="#b5e0ea"/>
<rect x="182" y="668" width="2" height="10" fill="#aaa"/><rect x="212" y="668" width="99" height="10" fill="#c9c9c9"/>
<g class="cn" font-size="8.5" fill="#555"><text x="220" y="665.5">OPCUA-Clinet</text><text x="215" y="676.5">OPCUA-历史数据</text></g>
<path d="M311,662 H321 V720 H315" stroke="#5a8c2a" stroke-width="1" fill="none"/>
<rect x="183" y="681" width="128" height="50" fill="#f8f8f8" stroke="#ddd" stroke-width="0.6"/>
<rect x="186" y="684" width="126" height="48" fill="#f4f4f4" stroke="#ddd" stroke-width="0.6"/>
<rect x="189" y="686" width="123" height="46" fill="#dcedf7" stroke="#bcd" stroke-width="0.6"/>
<rect x="193" y="700" width="50" height="28" fill="#eee" stroke="#888" stroke-width="0.6"/>
<rect x="211" y="688" width="18" height="13" fill="#333"/><rect x="215" y="705" width="14" height="15" fill="#444"/><rect x="193" y="702" width="18" height="2" fill="#c33"/>
<g class="cn" font-size="6" fill="#555"><text transform="translate(249,696) rotate(90)">OPCUA</text><text transform="translate(256,696) rotate(90)" font-size="5">SERVER</text></g>
<rect x="264" y="694" width="48" height="7" fill="#4a5868"/><rect x="264" y="705" width="48" height="7" fill="#5d8f2d"/><rect x="264" y="715" width="48" height="7" fill="#5d8f2d"/>
<g class="cn" font-size="6.5" fill="#fff"><text x="277" y="700">数控系统</text><text x="277" y="711">温度测量</text><text x="277" y="721">振动测量</text></g>
<!-- terminal 3 -->
<rect x="343" y="631" width="57" height="13" fill="#555"/>
<text class="cn" x="348" y="641" font-size="8.5" fill="#fff">▭ 转发终端</text>
<rect x="343" y="643" width="150" height="90" rx="4" fill="#f0f0f0" stroke="#666" stroke-width="1.5"/>
<rect x="347" y="647" width="39" height="9" fill="#e8920c"/><rect x="388" y="647" width="34" height="9" fill="#1d5a8c"/><rect x="423" y="647" width="53" height="9" fill="#2a8090"/>
<g class="cn" fill="#fff"><text x="358" y="655" font-size="8">实时</text><text x="397" y="655" font-size="8">延后</text><text x="426" y="654.5" font-size="6">OPCUA-Server</text></g>
<rect x="347" y="657" width="2" height="10" fill="#9ad"/><rect x="377" y="657" width="99" height="10" fill="#b5e0ea"/>
<rect x="347" y="668" width="2" height="10" fill="#aaa"/><rect x="377" y="668" width="99" height="10" fill="#c9c9c9"/>
<g class="cn" font-size="8.5" fill="#555"><text x="385" y="665.5">OPCUA-Clinet</text><text x="380" y="676.5">OPCUA-历史数据</text></g>
<path d="M476,662 H486 V720 H480" stroke="#5a8c2a" stroke-width="1" fill="none"/>
<rect x="348" y="681" width="128" height="50" fill="#f8f8f8" stroke="#ddd" stroke-width="0.6"/>
<rect x="351" y="684" width="126" height="48" fill="#f4f4f4" stroke="#ddd" stroke-width="0.6"/>
<rect x="354" y="686" width="123" height="46" fill="#dcedf7" stroke="#bcd" stroke-width="0.6"/>
<rect x="358" y="700" width="50" height="28" fill="#eee" stroke="#888" stroke-width="0.6"/>
<rect x="376" y="688" width="18" height="13" fill="#333"/><rect x="380" y="705" width="14" height="15" fill="#444"/><rect x="358" y="702" width="18" height="2" fill="#c33"/>
<g class="cn" font-size="6" fill="#555"><text transform="translate(414,696) rotate(90)">OPCUA</text><text transform="translate(421,696) rotate(90)" font-size="5">SERVER</text></g>
<rect x="429" y="694" width="48" height="7" fill="#4a5868"/><rect x="429" y="705" width="48" height="7" fill="#5d8f2d"/><rect x="429" y="715" width="48" height="7" fill="#5d8f2d"/>
<g class="cn" font-size="6.5" fill="#fff"><text x="442" y="700">数控系统</text><text x="442" y="711">温度测量</text><text x="442" y="721">振动测量</text></g>
<rect x="122" y="393" width="268" height="40" fill="#c2d0f0" opacity="0.9"/>
<text class="tt" x="133" y="430" font-size="31" textLength="245" lengthAdjust="spacingAndGlyphs">数字孪生平台架构</text>

<!-- ================= BOTTOM MIDDLE ================= -->
<rect x="498" y="422" width="80" height="83" rx="3" fill="#d3ebf5" stroke="#8ab8cc" stroke-width="1"/>
<text class="cn" x="502" y="433" font-size="9" fill="#333">✎分布式</text>
<text class="cn" x="513" y="444" font-size="9" fill="#333">服务注册中心</text>
<g fill="#2a7b8c" stroke="#fff" stroke-width="1">
<polygon points="535,443 551,452 551,470 535,479 519,470 519,452"/>
<polygon points="517,471 533,480 533,497 517,506 501,497 501,480"/>
<polygon points="555,471 571,480 571,497 555,506 539,497 539,480"/>
</g>
<g class="cn" fill="#fff" text-anchor="middle">
<text x="535" y="455" font-size="4">NACOS</text><text x="535" y="467" font-size="11">01</text>
<text x="517" y="483" font-size="4">NACOS</text><text x="517" y="496" font-size="11">02</text>
<text x="555" y="483" font-size="4">NACOS</text><text x="555" y="496" font-size="11">03</text>
</g>
<rect x="585" y="406" width="115" height="74" rx="5" fill="#f1f1f1" stroke="#888" stroke-width="1.2"/>
<rect x="594" y="414" width="7" height="7" fill="none" stroke="#555" stroke-width="0.8"/>
<text class="cn" x="605" y="421" font-size="9" fill="#333">用户域</text>
<rect x="594" y="432" width="38" height="27" rx="2" fill="#f8f8f8" stroke="#555" stroke-width="1"/>
<line x1="594" y1="437" x2="632" y2="437" stroke="#555" stroke-width="0.8"/>
<rect x="636" y="431" width="21" height="29" rx="3" fill="#f8f8f8" stroke="#555" stroke-width="1"/>
<rect x="639" y="435" width="15" height="20" fill="#fff" stroke="#777" stroke-width="0.5"/>
<rect x="662" y="431" width="31" height="27" rx="3" fill="#f8f8f8" stroke="#555" stroke-width="1"/>
<rect x="666" y="434" width="23" height="12" fill="#fff" stroke="#777" stroke-width="0.5"/>
<g fill="#777"><rect x="666" y="449" width="23" height="1.5"/><rect x="666" y="452" width="23" height="1.5"/><rect x="666" y="455" width="23" height="1.5"/></g>
<g class="cn" font-size="8.5" font-weight="bold" fill="#333"><text x="600" y="471">桌面端</text><text x="633" y="471">移动端</text><text x="670" y="471">PDA</text></g>
<g fill="none" stroke="#e39a1c" stroke-width="3">
<path d="M624,480 V530"/><path d="M570,530 H652"/><path d="M570,530 V620"/><path d="M630,530 V620"/><path d="M650,530 V622"/>
</g>
<g fill="none" stroke="#f6c24a" stroke-width="1.2">
<path d="M624,480 V530"/><path d="M570,530 H652"/><path d="M570,530 V620"/><path d="M630,530 V620"/><path d="M650,530 V622"/>
</g>
<g fill="#f0a820"><polygon points="565,618 570,627 575,618"/><polygon points="625,618 630,627 635,618"/><polygon points="645,620 650,629 655,620"/></g>
<rect x="523" y="540" width="176" height="150" fill="none" stroke="#999" stroke-width="1.5" stroke-dasharray="6,3"/>
<text class="cn" x="526" y="553" font-size="10" fill="#444">虚拟交互域</text>
<rect x="610" y="480" width="5" height="75" fill="#1e6aa8"/>
<polygon points="604,553 612.5,564 621,553" fill="#1e6aa8"/>
<rect x="527" y="563" width="170" height="15" fill="#10588a"/>
<text class="mo" x="612" y="574.5" font-size="10" font-weight="bold" fill="#fff" text-anchor="middle">MatchMaker Server</text>
<g fill="#62a832">
<rect x="558.5" y="583" width="3" height="13"/><polygon points="555,585 560,578 565,585"/><polygon points="555,594 560,601 565,594"/>
<rect x="618.5" y="583" width="3" height="13"/><polygon points="615,585 620,578 625,585"/><polygon points="615,594 620,601 625,594"/>
<rect x="660.5" y="583" width="3" height="13"/><polygon points="657,585 662,578 667,585"/><polygon points="657,594 662,601 667,594"/>
</g>
<g class="cn" font-size="8" fill="#333"><text x="526" y="596">▯▭ 主</text><text x="585" y="596">▯▭ 主</text><text x="668" y="596">▯▭ 主</text></g>
<g fill="#c9c9c9" stroke="#888" stroke-width="0.8">
<rect x="525" y="600" width="53" height="88"/><rect x="582" y="600" width="55" height="88"/><rect x="642" y="600" width="55" height="88"/>
</g>
<g fill="#2a8090"><rect x="529" y="604" width="36" height="19"/><rect x="586" y="604" width="36" height="19"/><rect x="658" y="604" width="36" height="19"/></g>
<g class="cn" font-size="8" fill="#fff"><text x="531" y="614">信令服务</text><text x="541" y="622">器</text><text x="588" y="614">信令服务</text><text x="598" y="622">器</text><text x="660" y="614">信令服务</text><text x="670" y="622">器</text></g>
<g fill="#3d4f62"><rect x="527" y="625" width="49" height="12"/><rect x="584" y="625" width="51" height="12"/><rect x="644" y="625" width="51" height="12"/></g>
<g class="cn" font-size="7.5" fill="#fff"><text x="529" y="634">像素流送插件</text><text x="587" y="634">像素流送插件</text><text x="647" y="634">像素流送插件</text></g>
<g fill="#ddd" stroke="#333" stroke-width="2">
<circle cx="555" cy="656" r="10"/><circle cx="611" cy="656" r="10"/><circle cx="669" cy="656" r="10"/>
</g>
<g font-family="Liberation Serif,serif" font-size="13" font-weight="bold" fill="#333" text-anchor="middle"><text x="555" y="661">u</text><text x="611" y="661">u</text><text x="669" y="661">u</text></g>
<g class="cn" font-size="6.5" font-weight="bold" fill="#333" text-anchor="middle"><text x="555" y="677">UNREAL</text><text x="611" y="677">UNREAL</text><text x="669" y="677">UNREAL</text></g>
<g fill="#2a8090">
<rect x="550.5" y="692" width="3" height="10"/><polygon points="547,694 552,687 557,694"/><polygon points="547,700 552,707 557,700"/>
<rect x="608.5" y="692" width="3" height="10"/><polygon points="605,694 610,687 615,694"/><polygon points="605,700 610,707 615,700"/>
<rect x="668.5" y="692" width="3" height="10"/><polygon points="665,694 670,687 675,694"/><polygon points="665,700 670,707 675,700"/>
</g>
<rect x="525" y="705" width="172" height="27" fill="#2a7f90"/>
<text class="cn" x="611" y="722" font-size="10" fill="#dff" text-anchor="middle">OPCUA-Client</text>

<!-- ================= BOTTOM RIGHT ================= -->
<rect x="710" y="404" width="316" height="168" fill="#fdfdfd"/>
<line x1="840" y1="419" x2="1025" y2="419" stroke="#e4e4e4" stroke-width="1"/>
<line x1="840" y1="432" x2="1025" y2="432" stroke="#e4e4e4" stroke-width="1"/>
<g class="mo" font-size="6" fill="#aaa">
<text x="712" y="416">Session</text><text x="712" y="423">Session</text><text x="712" y="430">Session</text><text x="712" y="437">Debug</text>
<text x="712" y="449" textLength="150" lengthAdjust="spacingAndGlyphs">AutotestPreferencesBuilder *autotestPreferencesBuilder1;</text>
</g>
<g class="mo" font-size="6" fill="#555">
<text x="712" y="457" textLength="223" lengthAdjust="spacingAndGlyphs">autotestPreferencesBuilder1 = theDebugSession-&gt;CreateAutotestPreferencesBuilder();</text>
<text x="712" y="470" textLength="256" lengthAdjust="spacingAndGlyphs">autotestPreferencesBuilder1-&gt;SetAutovalidate(AutotestPreferencesBuilder::ValidationOptionNone);</text>
<text x="712" y="484" textLength="301" lengthAdjust="spacingAndGlyphs">autotestPreferencesBuilder1-&gt;SetCollectorValidation(AutotestPreferencesBuilder::CollectorValidationOptionNone);</text>
<text x="712" y="497" textLength="275" lengthAdjust="spacingAndGlyphs">autotestPreferencesBuilder1-&gt;SetInfoValidation(AutotestPreferencesBuilder::InfoValidationOptionNone);</text>
<text x="712" y="510" textLength="285" lengthAdjust="spacingAndGlyphs">autotestPreferencesBuilder1-&gt;SetSubobjectNesting(AutotestPreferencesBuilder::SubobjectNestingOptionNone);</text>
<text x="712" y="524" textLength="283" lengthAdjust="spacingAndGlyphs">autotestPreferencesBuilder1-&gt;SetObjectDetails(AutotestPreferencesBuilder::ObjectDetailsOptionHideDetails);</text>
<text x="712" y="537" textLength="293" lengthAdjust="spacingAndGlyphs">autotestPreferencesBuilder1-&gt;SetTreeListValidation(AutotestPreferencesBuilder::TreeListValidationOptionNone);</text>
<text x="712" y="550" textLength="285" lengthAdjust="spacingAndGlyphs">autotestPreferencesBuilder1-&gt;SetCaeObjValidation(AutotestPreferencesBuilder::CaeObjValidationOptionFull);</text>
<text x="712" y="562" textLength="53" lengthAdjust="spacingAndGlyphs">NXObject *nXObject1;</text>
<text x="712" y="570" textLength="135" lengthAdjust="spacingAndGlyphs">nXObject1 = autotestPreferencesBuilder1-&gt;Commit();</text>
</g>
<rect x="710" y="403" width="270" height="47" fill="#c2d0f0" opacity="0.9"/>
<text class="tt" x="722" y="441" font-size="31" textLength="245" lengthAdjust="spacingAndGlyphs">零部件生成式设计</text>
<!-- dark UI -->
<rect x="710" y="573" width="168" height="162" fill="#2b2b2b"/>
<rect x="710" y="573" width="168" height="6" fill="#3c3c3c"/>
<rect x="712" y="581" width="164" height="12" fill="#363636"/>
<g fill="#888"><rect x="714" y="583" width="5" height="6"/><rect x="722" y="583" width="5" height="6"/><rect x="728" y="583" width="5" height="6"/><rect x="736" y="583" width="5" height="6"/><rect x="743" y="583" width="5" height="6"/></g>
<rect x="712" y="596" width="23" height="137" fill="#323232"/>
<g fill="#666"><rect x="713" y="601" width="15" height="1.5"/><rect x="713" y="604" width="15" height="1.5"/><rect x="713" y="607" width="18" height="1.5"/><rect x="713" y="610" width="12" height="1.5"/></g>
<rect x="737" y="595" width="116" height="102" fill="url(#gview)"/>
<polygon points="737,637 777,610 793,618 793,662 772,697 737,697" fill="#f3f3f3" stroke="#999" stroke-width="0.5"/>
<g fill="#bbb"><rect x="752" y="655" width="8" height="10"/><rect x="770" y="640" width="8" height="10"/></g>
<g stroke="#666" stroke-width="1.2"><line x1="745" y1="633" x2="745" y2="648"/><line x1="758" y1="625" x2="758" y2="640"/><line x1="770" y1="617" x2="770" y2="632"/></g>
<polygon points="772,595 832,595 832,640 796,662 775,650" fill="#222"/>
<polygon points="788,595 798,595 798,652 788,655" fill="#3a3a3a"/>
<g fill="#2aa6b8"><rect x="792" y="600" width="2" height="2"/><rect x="792" y="608" width="2" height="2"/><rect x="792" y="616" width="2" height="2"/><rect x="792" y="624" width="2" height="2"/></g>
<polygon points="822,595 832,595 832,612 824,615" fill="#d9b83a"/>
<polygon points="752,697 792,697 842,645 822,636" fill="#2e2e2e"/>
<g stroke="#555" stroke-width="0.6"><line x1="758" y1="697" x2="826" y2="638"/><line x1="766" y1="697" x2="830" y2="640"/><line x1="774" y1="697" x2="834" y2="641"/><line x1="782" y1="697" x2="838" y2="643"/></g>
<polygon points="792,697 853,697 853,608 838,618 800,680" fill="#f3f3f3" stroke="#999" stroke-width="0.5"/>
<polygon points="800,680 838,618 845,622 808,685" fill="#d8d8d8"/>
<g fill="#bbb"><rect x="815" y="672" width="8" height="8"/><rect x="835" y="655" width="8" height="8"/></g>
<circle cx="800" cy="660" r="3" fill="#3a6ad8"/>
<rect x="855" y="595" width="22" height="102" fill="#303030"/>
<rect x="737" y="699" width="116" height="27" fill="#1c1c1c"/>
<g fill="#777"><rect x="739" y="703" width="60" height="1.2"/><rect x="739" y="706" width="80" height="1.2"/><rect x="739" y="709" width="70" height="1.2"/><rect x="739" y="712" width="85" height="1.2"/><rect x="739" y="715" width="55" height="1.2"/><rect x="739" y="718" width="75" height="1.2"/></g>
<rect x="737" y="727" width="116" height="7" fill="#3a3a3a"/>
<g><rect x="739" y="728" width="4" height="5" fill="#aaa"/><rect x="745" y="728" width="4" height="5" fill="#4a8"/><rect x="751" y="728" width="4" height="5" fill="#dc4"/><rect x="757" y="728" width="4" height="5" fill="#c44"/><rect x="767" y="729" width="40" height="3" fill="#999"/></g>
<!-- gray part -->
<rect x="880" y="573" width="146" height="162" fill="url(#gpart)"/>
<path d="M897,612 L897,690 Q899,718 930,722 L945,722 Q1000,722 1011,690 L1013,612 z" fill="#ebebeb" stroke="#555" stroke-width="0.8"/>
<polygon points="1003,592 1015,608 1013,632 1005,630" fill="#e4e4e4" stroke="#555" stroke-width="0.6"/>
<ellipse cx="955" cy="611" rx="58" ry="26" fill="#f3f3f3" stroke="#555" stroke-width="0.8"/>
<ellipse cx="958" cy="609" rx="26" ry="12" fill="#e0e0e0" stroke="#666" stroke-width="0.6"/>
<ellipse cx="958" cy="614" rx="10" ry="4.5" fill="#ccc" stroke="#666" stroke-width="0.5"/>
<g fill="#ddd" stroke="#666" stroke-width="0.5"><circle cx="910" cy="610" r="3"/><circle cx="1000" cy="612" r="3"/><circle cx="926" cy="630" r="3"/><circle cx="988" cy="632" r="3"/><circle cx="930" cy="594" r="3"/><circle cx="978" cy="591" r="3"/></g>
<ellipse cx="915" cy="660" rx="13" ry="18" fill="#b8b8b8" stroke="#555" stroke-width="0.7"/>
<ellipse cx="918" cy="660" rx="7" ry="12" fill="#9a9a9a"/>
<path d="M900,690 Q925,715 960,712 M907,702 Q930,722 955,720" stroke="#666" stroke-width="0.6" fill="none"/>
<path d="M975,645 H1012 M975,645 V710" stroke="#888" stroke-width="0.5" fill="none"/>
<circle cx="990" cy="675" r="4" fill="none" stroke="#777" stroke-width="0.6"/>
</svg>
</body></html>
